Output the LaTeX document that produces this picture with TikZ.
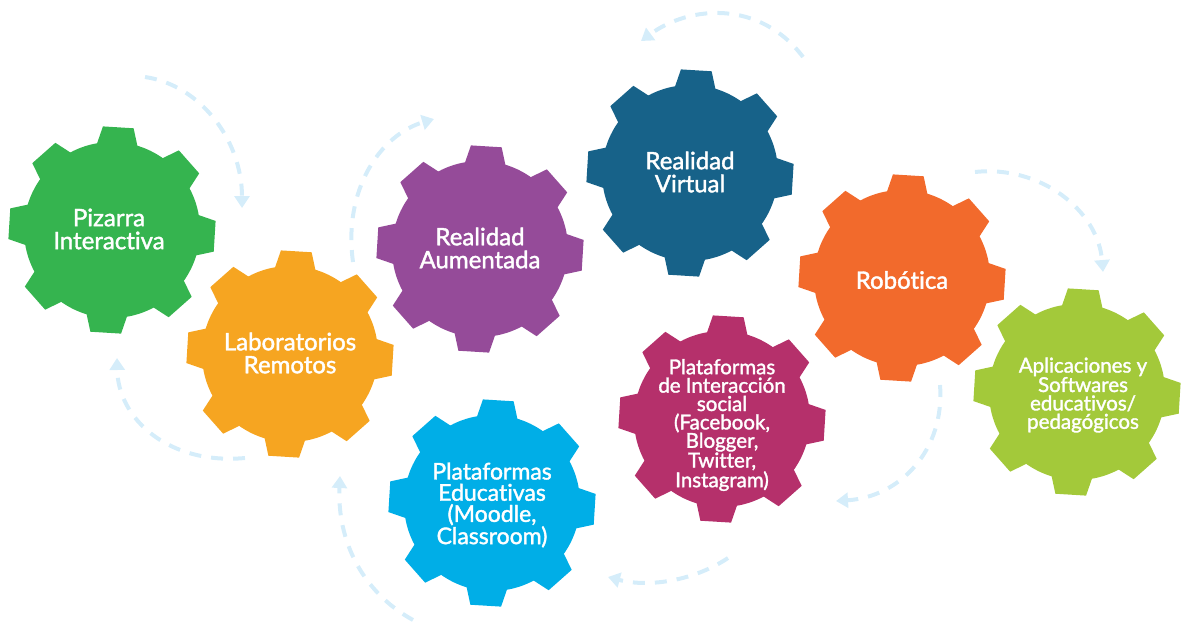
\documentclass[tikz,border=0pt]{standalone}
\usepackage{fontspec}
\setmainfont{Lato}[FakeBold=1.6, Ligatures={NoCommon}]
\usetikzlibrary{arrows.meta}
\definecolor{cgreen}{HTML}{35B44F}
\definecolor{corange}{HTML}{F6A521}
\definecolor{cpurple}{HTML}{954B99}
\definecolor{cnavy}{HTML}{176289}
\definecolor{crobot}{HTML}{F26A2C}
\definecolor{clime}{HTML}{A3C93A}
\definecolor{cmagenta}{HTML}{B5306B}
\definecolor{ccyan}{HTML}{00AEE7}
\definecolor{carrow}{HTML}{D5EDFA}
\tikzset{
  gear/.pic={
    \fill (0,0) circle[radius=88pt];
    \foreach \a in {86.5,131.5,...,401.5}
      \fill (\a-14:86pt) -- (\a-8.5:104pt) -- (\a+8.5:104pt) -- (\a+14:86pt) -- cycle;
  },
  lbl/.style={text=white, align=center, inner sep=0pt, font=\fontsize{24}{23}\selectfont},
  lblsmall/.style={lbl, font=\fontsize{20.5}{18.4}\selectfont},
  lblmid/.style={lbl, font=\fontsize{23}{21.2}\selectfont},
  flow/.style={draw=carrow, line width=4pt, dash pattern=on 12pt off 10pt,
    -{Triangle[length=12pt,width=15pt]}},
}
\begin{document}
\begin{tikzpicture}[x=1pt,y=-1pt]
\useasboundingbox (0,0) rectangle (1182,622);
% dashed circulating arrows (behind the gears)
\coordinate (a1s) at (145,77);   \coordinate (a1e) at (242,208);
\coordinate (a2s) at (245,458);  \coordinate (a2e) at (117,358);
\coordinate (a3s) at (353,262);  \coordinate (a3e) at (434,119);
\coordinate (a4s) at (803,57);   \coordinate (a4e) at (641,41);
\coordinate (a5s) at (975,172);  \coordinate (a5e) at (1103,272);
\coordinate (a6s) at (940,385);  \coordinate (a6e) at (836,501);
\coordinate (a7s) at (728,558);  \coordinate (a7e) at (608,577);
\coordinate (a8s) at (413,620);  \coordinate (a8e) at (340,476);
\draw[flow] (a1s) .. controls (200,85) and (242,140) .. (a1e);
\draw[flow] (a2s) .. controls (170,465) and (118,420) .. (a2e);
\draw[flow] (a3s) .. controls (343,190) and (380,135) .. (a3e);
\draw[flow] (a4s) .. controls (760,0) and (690,5) .. (a4e);
\draw[flow] (a5s) .. controls (1040,165) and (1098,210) .. (a5e);
\draw[flow] (a6s) .. controls (945,450) and (900,497) .. (a6e);
\draw[flow] (a7s) .. controls (695,580) and (650,588) .. (a7e);
\draw[flow] (a8s) .. controls (362,592) and (337,540) .. (a8e);
% gears
\pic[fill=cgreen]   at (112,230) {gear};
\pic[fill=corange]  at (290,354) {gear};
\pic[fill=cpurple]  at (480,249) {gear};
\pic[fill=cnavy]    at (690,173) {gear};
\pic[fill=crobot]   at (902,278) {gear};
\pic[fill=clime]    at (1077,392) {gear};
\pic[fill=cmagenta] at (722,419) {gear};
\pic[fill=ccyan]    at (492,503) {gear};
% labels
\node[lbl] (pizarra) at (109,229) {Pizarra\\Interactiva};
\node[lbl] (labs) at (290,353) {Laboratorios\\Remotos};
\node[lbl] (ra) at (480,248) {Realidad\\Aumentada};
\node[lbl] (rv) at (690,172) {Realidad\\Virtual};
\node[lbl] (robot) at (902,280) {Robótica};
\node[lblsmall] (apps) at (1083,395) {Aplicaciones y\\Softwares\\educativos/\\pedagógicos};
\node[lblsmall] (social) at (722,425) {Plataformas\\de Interacción\\social\\(Facebook,\\Blogger,\\Twitter,\\Instagram)};
\node[lblmid] (edu) at (492,505) {Plataformas\\Educativas\\(Moodle,\\Classroom)};
\end{tikzpicture}
\end{document}
